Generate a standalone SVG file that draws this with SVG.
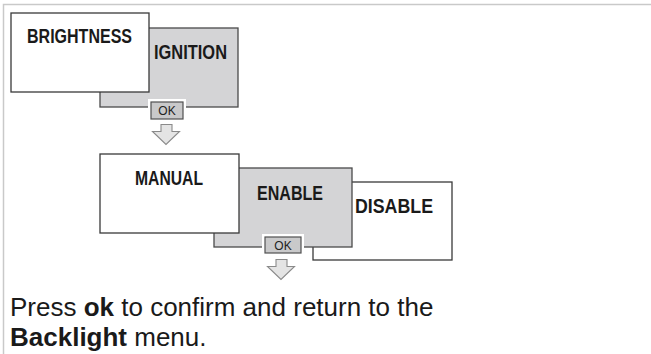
<svg xmlns="http://www.w3.org/2000/svg" width="651" height="354" viewBox="0 0 651 354">
<style>
.frame{stroke:#c9c9c9;stroke-width:1.5;fill:none}
.wbox{fill:#ffffff;stroke:#3a3a3a;stroke-width:1.3}
.gbox{fill:#d4d4d6;stroke:#4a4a4a;stroke-width:1.3}
.lbl{font-family:"Liberation Sans",Arial,sans-serif;font-weight:bold;font-size:20.5px;fill:#1a1a1a}
.okhalo{fill:#ffffff}
.okbtn{fill:#c9c9ca;stroke:#505050;stroke-width:1.2}
.oktxt{font-family:"Liberation Sans",Arial,sans-serif;font-size:12px;fill:#222;text-anchor:middle}
.arrow{fill:#e4e4e4;stroke:#8a8a8a;stroke-width:1.1;stroke-linejoin:miter}
.body{font-family:"Liberation Sans",Arial,sans-serif;font-size:26px;fill:#1a1a1a}
</style>
<rect width="651" height="354" fill="#ffffff"/>
<path class="frame" d="M3.5,354 V4.5 H651"/>

<g id="ignition">
<rect class="gbox" x="100" y="28" width="138" height="79"/>
<text class="lbl" x="154" y="59" textLength="73" lengthAdjust="spacingAndGlyphs">IGNITION</text>
</g>
<g id="brightness">
<rect class="wbox" x="11" y="13" width="138" height="79"/>
<text class="lbl" x="27" y="43" textLength="105" lengthAdjust="spacingAndGlyphs">BRIGHTNESS</text>
</g>
<g id="ok1">
<rect class="okhalo" x="148" y="99" width="38" height="22"/>
<rect class="okbtn" x="151" y="102" width="32" height="17"/>
<text class="oktxt" x="167" y="115">OK</text>
</g>

<g id="disable">
<rect class="wbox" x="313" y="182" width="139" height="78"/>
<text class="lbl" x="355" y="213" textLength="78" lengthAdjust="spacingAndGlyphs">DISABLE</text>
</g>
<g id="enable">
<rect class="gbox" x="214" y="168" width="138" height="79"/>
<text class="lbl" x="257" y="200" textLength="66" lengthAdjust="spacingAndGlyphs">ENABLE</text>
</g>
<g id="manual">
<rect class="wbox" x="100" y="154" width="139" height="79"/>
<text class="lbl" x="135" y="185" textLength="68" lengthAdjust="spacingAndGlyphs">MANUAL</text>
</g>
<g id="ok2">
<rect class="okhalo" x="262" y="234" width="42" height="22"/>
<rect class="okbtn" x="265" y="237" width="36" height="16"/>
<text class="oktxt" x="283" y="250">OK</text>
</g>

<g id="connectors">
<path class="arrow" d="M161,124.5 H172 V131.5 H179.5 L166,144.5 L152.5,131.5 H161 Z"/>
<path class="arrow" d="M276,259.5 H287 V266.5 H294.5 L281,279.5 L267.5,266.5 H276 Z"/>
</g>

<g id="caption">
<text class="body" x="10" y="316">Press <tspan font-weight="bold">ok</tspan> to confirm and return to the</text>
<text class="body" x="10" y="346"><tspan font-weight="bold">Backlight</tspan> menu.</text>
</g>
</svg>
